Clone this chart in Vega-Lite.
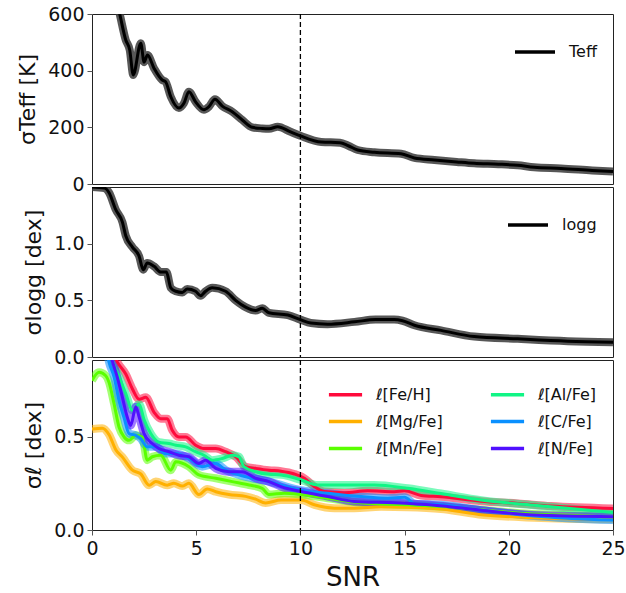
{
  "$schema": "https://vega.github.io/schema/vega-lite/v6.json",
  "background": "white",
  "padding": {"left": 16, "top": 4, "right": 12, "bottom": 2},
  "spacing": 3,
  "bounds": "flush",
  "datasets": {
    "teff": [
      {"snr": 0.5, "v": 900, "name": "Teff"}, {"snr": 1.0, "v": 700, "name": "Teff"}, {"snr": 1.33, "v": 600, "name": "Teff"},
      {"snr": 1.62, "v": 508, "name": "Teff"}, {"snr": 1.81, "v": 473, "name": "Teff"}, {"snr": 1.98, "v": 385, "name": "Teff"},
      {"snr": 2.34, "v": 497, "name": "Teff"}, {"snr": 2.5, "v": 430, "name": "Teff"}, {"snr": 2.66, "v": 455, "name": "Teff"},
      {"snr": 2.98, "v": 408, "name": "Teff"}, {"snr": 3.37, "v": 367, "name": "Teff"}, {"snr": 3.53, "v": 361, "name": "Teff"},
      {"snr": 3.78, "v": 308, "name": "Teff"}, {"snr": 4.17, "v": 268, "name": "Teff"}, {"snr": 4.41, "v": 285, "name": "Teff"},
      {"snr": 4.65, "v": 326, "name": "Teff"}, {"snr": 4.97, "v": 290, "name": "Teff"}, {"snr": 5.37, "v": 262, "name": "Teff"},
      {"snr": 5.61, "v": 273, "name": "Teff"}, {"snr": 5.9, "v": 299, "name": "Teff"}, {"snr": 6.25, "v": 275, "name": "Teff"},
      {"snr": 6.73, "v": 255, "name": "Teff"}, {"snr": 7.21, "v": 226, "name": "Teff"}, {"snr": 7.69, "v": 200, "name": "Teff"},
      {"snr": 8.17, "v": 196, "name": "Teff"}, {"snr": 8.5, "v": 195, "name": "Teff"}, {"snr": 8.91, "v": 202, "name": "Teff"},
      {"snr": 9.5, "v": 185, "name": "Teff"}, {"snr": 10.0, "v": 170, "name": "Teff"}, {"snr": 11.0, "v": 148, "name": "Teff"},
      {"snr": 11.9, "v": 146, "name": "Teff"}, {"snr": 12.3, "v": 135, "name": "Teff"}, {"snr": 12.75, "v": 120, "name": "Teff"},
      {"snr": 13.55, "v": 112, "name": "Teff"}, {"snr": 14.83, "v": 107, "name": "Teff"}, {"snr": 15.47, "v": 92, "name": "Teff"},
      {"snr": 16.43, "v": 85, "name": "Teff"}, {"snr": 17.5, "v": 78, "name": "Teff"}, {"snr": 18.34, "v": 73, "name": "Teff"},
      {"snr": 19.5, "v": 70, "name": "Teff"}, {"snr": 20.43, "v": 66, "name": "Teff"}, {"snr": 21.22, "v": 59, "name": "Teff"},
      {"snr": 22.5, "v": 55, "name": "Teff"}, {"snr": 24.0, "v": 48, "name": "Teff"}, {"snr": 25.0, "v": 44, "name": "Teff"}
    ],
    "logg": [
      {"snr": 0.0, "v": 1.5, "name": "logg"}, {"snr": 0.6, "v": 1.49, "name": "logg"}, {"snr": 0.82, "v": 1.45, "name": "logg"},
      {"snr": 1.14, "v": 1.30, "name": "logg"}, {"snr": 1.46, "v": 1.19, "name": "logg"}, {"snr": 1.62, "v": 1.07, "name": "logg"},
      {"snr": 1.94, "v": 0.97, "name": "logg"}, {"snr": 2.26, "v": 0.89, "name": "logg"}, {"snr": 2.46, "v": 0.77, "name": "logg"},
      {"snr": 2.65, "v": 0.83, "name": "logg"}, {"snr": 2.98, "v": 0.80, "name": "logg"}, {"snr": 3.3, "v": 0.75, "name": "logg"},
      {"snr": 3.57, "v": 0.75, "name": "logg"}, {"snr": 3.78, "v": 0.61, "name": "logg"}, {"snr": 4.02, "v": 0.58, "name": "logg"},
      {"snr": 4.33, "v": 0.57, "name": "logg"}, {"snr": 4.57, "v": 0.60, "name": "logg"}, {"snr": 4.97, "v": 0.58, "name": "logg"},
      {"snr": 5.21, "v": 0.54, "name": "logg"}, {"snr": 5.45, "v": 0.58, "name": "logg"}, {"snr": 5.77, "v": 0.61, "name": "logg"},
      {"snr": 6.41, "v": 0.58, "name": "logg"}, {"snr": 6.89, "v": 0.50, "name": "logg"}, {"snr": 7.37, "v": 0.44, "name": "logg"},
      {"snr": 7.85, "v": 0.41, "name": "logg"}, {"snr": 8.17, "v": 0.43, "name": "logg"}, {"snr": 8.49, "v": 0.39, "name": "logg"},
      {"snr": 9.4, "v": 0.37, "name": "logg"}, {"snr": 10.0, "v": 0.33, "name": "logg"}, {"snr": 10.5, "v": 0.30, "name": "logg"},
      {"snr": 11.3, "v": 0.29, "name": "logg"}, {"snr": 12.6, "v": 0.31, "name": "logg"}, {"snr": 13.6, "v": 0.33, "name": "logg"},
      {"snr": 14.5, "v": 0.33, "name": "logg"}, {"snr": 14.9, "v": 0.32, "name": "logg"}, {"snr": 15.47, "v": 0.28, "name": "logg"},
      {"snr": 16.75, "v": 0.235, "name": "logg"}, {"snr": 18.34, "v": 0.18, "name": "logg"}, {"snr": 20.43, "v": 0.16, "name": "logg"},
      {"snr": 22.83, "v": 0.14, "name": "logg"}, {"snr": 25.0, "v": 0.13, "name": "logg"}
    ],
    "abund": [
      {"el": "ℓ[Fe/H]", "snr": 0.5, "v": 1.1}, {"el": "ℓ[Fe/H]", "snr": 1.0, "v": 0.95}, {"el": "ℓ[Fe/H]", "snr": 1.21, "v": 0.9},
      {"el": "ℓ[Fe/H]", "snr": 1.62, "v": 0.835}, {"el": "ℓ[Fe/H]", "snr": 1.94, "v": 0.755}, {"el": "ℓ[Fe/H]", "snr": 2.26, "v": 0.70},
      {"el": "ℓ[Fe/H]", "snr": 2.58, "v": 0.71}, {"el": "ℓ[Fe/H]", "snr": 2.98, "v": 0.63}, {"el": "ℓ[Fe/H]", "snr": 3.3, "v": 0.596},
      {"el": "ℓ[Fe/H]", "snr": 3.61, "v": 0.596}, {"el": "ℓ[Fe/H]", "snr": 3.85, "v": 0.534}, {"el": "ℓ[Fe/H]", "snr": 4.17, "v": 0.498},
      {"el": "ℓ[Fe/H]", "snr": 4.5, "v": 0.498}, {"el": "ℓ[Fe/H]", "snr": 4.97, "v": 0.454}, {"el": "ℓ[Fe/H]", "snr": 5.37, "v": 0.436},
      {"el": "ℓ[Fe/H]", "snr": 5.94, "v": 0.436}, {"el": "ℓ[Fe/H]", "snr": 6.41, "v": 0.419}, {"el": "ℓ[Fe/H]", "snr": 6.9, "v": 0.392},
      {"el": "ℓ[Fe/H]", "snr": 7.37, "v": 0.339}, {"el": "ℓ[Fe/H]", "snr": 7.85, "v": 0.33}, {"el": "ℓ[Fe/H]", "snr": 8.49, "v": 0.32},
      {"el": "ℓ[Fe/H]", "snr": 9.07, "v": 0.315}, {"el": "ℓ[Fe/H]", "snr": 9.71, "v": 0.30}, {"el": "ℓ[Fe/H]", "snr": 10.19, "v": 0.277},
      {"el": "ℓ[Fe/H]", "snr": 10.67, "v": 0.232}, {"el": "ℓ[Fe/H]", "snr": 11.15, "v": 0.206}, {"el": "ℓ[Fe/H]", "snr": 12.11, "v": 0.2},
      {"el": "ℓ[Fe/H]", "snr": 13.23, "v": 0.21}, {"el": "ℓ[Fe/H]", "snr": 14.5, "v": 0.205}, {"el": "ℓ[Fe/H]", "snr": 15.0, "v": 0.21},
      {"el": "ℓ[Fe/H]", "snr": 15.79, "v": 0.185}, {"el": "ℓ[Fe/H]", "snr": 16.75, "v": 0.178}, {"el": "ℓ[Fe/H]", "snr": 18.67, "v": 0.154},
      {"el": "ℓ[Fe/H]", "snr": 20.43, "v": 0.142}, {"el": "ℓ[Fe/H]", "snr": 22.02, "v": 0.128}, {"el": "ℓ[Fe/H]", "snr": 25.0, "v": 0.115},

      {"el": "ℓ[Mg/Fe]", "snr": 0.0, "v": 0.54}, {"el": "ℓ[Mg/Fe]", "snr": 0.49, "v": 0.545}, {"el": "ℓ[Mg/Fe]", "snr": 0.82, "v": 0.51},
      {"el": "ℓ[Mg/Fe]", "snr": 1.14, "v": 0.43}, {"el": "ℓ[Mg/Fe]", "snr": 1.46, "v": 0.39}, {"el": "ℓ[Mg/Fe]", "snr": 1.94, "v": 0.32},
      {"el": "ℓ[Mg/Fe]", "snr": 2.34, "v": 0.30}, {"el": "ℓ[Mg/Fe]", "snr": 2.74, "v": 0.24}, {"el": "ℓ[Mg/Fe]", "snr": 3.06, "v": 0.26},
      {"el": "ℓ[Mg/Fe]", "snr": 3.61, "v": 0.24}, {"el": "ℓ[Mg/Fe]", "snr": 3.93, "v": 0.25}, {"el": "ℓ[Mg/Fe]", "snr": 4.33, "v": 0.235},
      {"el": "ℓ[Mg/Fe]", "snr": 4.65, "v": 0.25}, {"el": "ℓ[Mg/Fe]", "snr": 5.13, "v": 0.19}, {"el": "ℓ[Mg/Fe]", "snr": 5.53, "v": 0.22},
      {"el": "ℓ[Mg/Fe]", "snr": 5.94, "v": 0.205}, {"el": "ℓ[Mg/Fe]", "snr": 6.57, "v": 0.19}, {"el": "ℓ[Mg/Fe]", "snr": 7.37, "v": 0.18},
      {"el": "ℓ[Mg/Fe]", "snr": 7.85, "v": 0.165}, {"el": "ℓ[Mg/Fe]", "snr": 8.33, "v": 0.145}, {"el": "ℓ[Mg/Fe]", "snr": 9.07, "v": 0.16},
      {"el": "ℓ[Mg/Fe]", "snr": 10.03, "v": 0.16}, {"el": "ℓ[Mg/Fe]", "snr": 10.67, "v": 0.135}, {"el": "ℓ[Mg/Fe]", "snr": 11.63, "v": 0.117},
      {"el": "ℓ[Mg/Fe]", "snr": 12.59, "v": 0.117}, {"el": "ℓ[Mg/Fe]", "snr": 13.87, "v": 0.124}, {"el": "ℓ[Mg/Fe]", "snr": 15.15, "v": 0.122},
      {"el": "ℓ[Mg/Fe]", "snr": 16.75, "v": 0.112}, {"el": "ℓ[Mg/Fe]", "snr": 17.71, "v": 0.098}, {"el": "ℓ[Mg/Fe]", "snr": 18.67, "v": 0.082},
      {"el": "ℓ[Mg/Fe]", "snr": 21.22, "v": 0.066}, {"el": "ℓ[Mg/Fe]", "snr": 25.0, "v": 0.057},

      {"el": "ℓ[Mn/Fe]", "snr": 0.0, "v": 0.80}, {"el": "ℓ[Mn/Fe]", "snr": 0.34, "v": 0.844}, {"el": "ℓ[Mn/Fe]", "snr": 0.66, "v": 0.826},
      {"el": "ℓ[Mn/Fe]", "snr": 0.82, "v": 0.79}, {"el": "ℓ[Mn/Fe]", "snr": 1.06, "v": 0.675}, {"el": "ℓ[Mn/Fe]", "snr": 1.3, "v": 0.55},
      {"el": "ℓ[Mn/Fe]", "snr": 1.54, "v": 0.498}, {"el": "ℓ[Mn/Fe]", "snr": 1.78, "v": 0.48}, {"el": "ℓ[Mn/Fe]", "snr": 2.1, "v": 0.507},
      {"el": "ℓ[Mn/Fe]", "snr": 2.41, "v": 0.498}, {"el": "ℓ[Mn/Fe]", "snr": 2.65, "v": 0.374}, {"el": "ℓ[Mn/Fe]", "snr": 2.89, "v": 0.392},
      {"el": "ℓ[Mn/Fe]", "snr": 3.3, "v": 0.40}, {"el": "ℓ[Mn/Fe]", "snr": 3.78, "v": 0.32}, {"el": "ℓ[Mn/Fe]", "snr": 4.02, "v": 0.365},
      {"el": "ℓ[Mn/Fe]", "snr": 4.65, "v": 0.339}, {"el": "ℓ[Mn/Fe]", "snr": 5.13, "v": 0.295}, {"el": "ℓ[Mn/Fe]", "snr": 5.94, "v": 0.277},
      {"el": "ℓ[Mn/Fe]", "snr": 6.73, "v": 0.259}, {"el": "ℓ[Mn/Fe]", "snr": 7.54, "v": 0.241}, {"el": "ℓ[Mn/Fe]", "snr": 8.17, "v": 0.223},
      {"el": "ℓ[Mn/Fe]", "snr": 8.49, "v": 0.19}, {"el": "ℓ[Mn/Fe]", "snr": 9.23, "v": 0.197}, {"el": "ℓ[Mn/Fe]", "snr": 10.03, "v": 0.19},
      {"el": "ℓ[Mn/Fe]", "snr": 11.31, "v": 0.17}, {"el": "ℓ[Mn/Fe]", "snr": 12.91, "v": 0.146}, {"el": "ℓ[Mn/Fe]", "snr": 15.15, "v": 0.135},
      {"el": "ℓ[Mn/Fe]", "snr": 16.75, "v": 0.126}, {"el": "ℓ[Mn/Fe]", "snr": 18.5, "v": 0.11}, {"el": "ℓ[Mn/Fe]", "snr": 20.5, "v": 0.09},
      {"el": "ℓ[Mn/Fe]", "snr": 22.5, "v": 0.08}, {"el": "ℓ[Mn/Fe]", "snr": 25.0, "v": 0.07},

      {"el": "ℓ[Al/Fe]", "snr": 0.6, "v": 1.05}, {"el": "ℓ[Al/Fe]", "snr": 0.97, "v": 0.906}, {"el": "ℓ[Al/Fe]", "snr": 1.3, "v": 0.82},
      {"el": "ℓ[Al/Fe]", "snr": 1.62, "v": 0.73}, {"el": "ℓ[Al/Fe]", "snr": 1.94, "v": 0.64}, {"el": "ℓ[Al/Fe]", "snr": 2.26, "v": 0.675},
      {"el": "ℓ[Al/Fe]", "snr": 2.5, "v": 0.59}, {"el": "ℓ[Al/Fe]", "snr": 2.82, "v": 0.516}, {"el": "ℓ[Al/Fe]", "snr": 3.21, "v": 0.47},
      {"el": "ℓ[Al/Fe]", "snr": 3.69, "v": 0.463}, {"el": "ℓ[Al/Fe]", "snr": 4.02, "v": 0.454}, {"el": "ℓ[Al/Fe]", "snr": 4.5, "v": 0.445},
      {"el": "ℓ[Al/Fe]", "snr": 4.97, "v": 0.419}, {"el": "ℓ[Al/Fe]", "snr": 5.37, "v": 0.40}, {"el": "ℓ[Al/Fe]", "snr": 5.77, "v": 0.374},
      {"el": "ℓ[Al/Fe]", "snr": 6.25, "v": 0.383}, {"el": "ℓ[Al/Fe]", "snr": 6.73, "v": 0.40}, {"el": "ℓ[Al/Fe]", "snr": 7.05, "v": 0.392},
      {"el": "ℓ[Al/Fe]", "snr": 7.29, "v": 0.339}, {"el": "ℓ[Al/Fe]", "snr": 7.85, "v": 0.312}, {"el": "ℓ[Al/Fe]", "snr": 8.49, "v": 0.298},
      {"el": "ℓ[Al/Fe]", "snr": 9.07, "v": 0.295}, {"el": "ℓ[Al/Fe]", "snr": 10.03, "v": 0.268}, {"el": "ℓ[Al/Fe]", "snr": 10.83, "v": 0.241},
      {"el": "ℓ[Al/Fe]", "snr": 12.11, "v": 0.241}, {"el": "ℓ[Al/Fe]", "snr": 13.55, "v": 0.241}, {"el": "ℓ[Al/Fe]", "snr": 15.15, "v": 0.223},
      {"el": "ℓ[Al/Fe]", "snr": 16.75, "v": 0.195}, {"el": "ℓ[Al/Fe]", "snr": 18.67, "v": 0.16}, {"el": "ℓ[Al/Fe]", "snr": 21.22, "v": 0.133},
      {"el": "ℓ[Al/Fe]", "snr": 25.0, "v": 0.094},

      {"el": "ℓ[C/Fe]", "snr": 0.5, "v": 1.1}, {"el": "ℓ[C/Fe]", "snr": 0.82, "v": 0.897}, {"el": "ℓ[C/Fe]", "snr": 1.06, "v": 0.82},
      {"el": "ℓ[C/Fe]", "snr": 1.3, "v": 0.69}, {"el": "ℓ[C/Fe]", "snr": 1.54, "v": 0.60}, {"el": "ℓ[C/Fe]", "snr": 1.78, "v": 0.516},
      {"el": "ℓ[C/Fe]", "snr": 2.1, "v": 0.507}, {"el": "ℓ[C/Fe]", "snr": 2.34, "v": 0.489}, {"el": "ℓ[C/Fe]", "snr": 2.65, "v": 0.445},
      {"el": "ℓ[C/Fe]", "snr": 3.06, "v": 0.445}, {"el": "ℓ[C/Fe]", "snr": 3.53, "v": 0.41}, {"el": "ℓ[C/Fe]", "snr": 4.02, "v": 0.41},
      {"el": "ℓ[C/Fe]", "snr": 4.65, "v": 0.383}, {"el": "ℓ[C/Fe]", "snr": 5.29, "v": 0.339}, {"el": "ℓ[C/Fe]", "snr": 5.94, "v": 0.356},
      {"el": "ℓ[C/Fe]", "snr": 6.41, "v": 0.321}, {"el": "ℓ[C/Fe]", "snr": 7.05, "v": 0.295}, {"el": "ℓ[C/Fe]", "snr": 7.69, "v": 0.277},
      {"el": "ℓ[C/Fe]", "snr": 8.49, "v": 0.259}, {"el": "ℓ[C/Fe]", "snr": 9.07, "v": 0.241}, {"el": "ℓ[C/Fe]", "snr": 10.03, "v": 0.213},
      {"el": "ℓ[C/Fe]", "snr": 11.31, "v": 0.197}, {"el": "ℓ[C/Fe]", "snr": 12.91, "v": 0.179}, {"el": "ℓ[C/Fe]", "snr": 14.19, "v": 0.17},
      {"el": "ℓ[C/Fe]", "snr": 15.0, "v": 0.175}, {"el": "ℓ[C/Fe]", "snr": 15.5, "v": 0.14}, {"el": "ℓ[C/Fe]", "snr": 16.75, "v": 0.135},
      {"el": "ℓ[C/Fe]", "snr": 18.67, "v": 0.106}, {"el": "ℓ[C/Fe]", "snr": 21.22, "v": 0.075}, {"el": "ℓ[C/Fe]", "snr": 25.0, "v": 0.053},

      {"el": "ℓ[N/Fe]", "snr": 0.6, "v": 1.05}, {"el": "ℓ[N/Fe]", "snr": 0.97, "v": 0.906}, {"el": "ℓ[N/Fe]", "snr": 1.21, "v": 0.82},
      {"el": "ℓ[N/Fe]", "snr": 1.46, "v": 0.71}, {"el": "ℓ[N/Fe]", "snr": 1.69, "v": 0.605}, {"el": "ℓ[N/Fe]", "snr": 1.86, "v": 0.56},
      {"el": "ℓ[N/Fe]", "snr": 2.1, "v": 0.66}, {"el": "ℓ[N/Fe]", "snr": 2.26, "v": 0.605}, {"el": "ℓ[N/Fe]", "snr": 2.5, "v": 0.516},
      {"el": "ℓ[N/Fe]", "snr": 2.89, "v": 0.463}, {"el": "ℓ[N/Fe]", "snr": 3.21, "v": 0.436}, {"el": "ℓ[N/Fe]", "snr": 3.69, "v": 0.419},
      {"el": "ℓ[N/Fe]", "snr": 4.17, "v": 0.40}, {"el": "ℓ[N/Fe]", "snr": 4.65, "v": 0.392}, {"el": "ℓ[N/Fe]", "snr": 5.13, "v": 0.356},
      {"el": "ℓ[N/Fe]", "snr": 5.45, "v": 0.374}, {"el": "ℓ[N/Fe]", "snr": 5.94, "v": 0.33}, {"el": "ℓ[N/Fe]", "snr": 6.57, "v": 0.312},
      {"el": "ℓ[N/Fe]", "snr": 7.21, "v": 0.312}, {"el": "ℓ[N/Fe]", "snr": 7.85, "v": 0.277}, {"el": "ℓ[N/Fe]", "snr": 8.49, "v": 0.259},
      {"el": "ℓ[N/Fe]", "snr": 9.07, "v": 0.232}, {"el": "ℓ[N/Fe]", "snr": 10.03, "v": 0.206}, {"el": "ℓ[N/Fe]", "snr": 11.31, "v": 0.179},
      {"el": "ℓ[N/Fe]", "snr": 12.59, "v": 0.153}, {"el": "ℓ[N/Fe]", "snr": 14.51, "v": 0.146}, {"el": "ℓ[N/Fe]", "snr": 16.43, "v": 0.133},
      {"el": "ℓ[N/Fe]", "snr": 18.67, "v": 0.106}, {"el": "ℓ[N/Fe]", "snr": 21.22, "v": 0.08}, {"el": "ℓ[N/Fe]", "snr": 25.0, "v": 0.071}
    ],
    "cut": [{"snr": 10}]
  },
  "vconcat": [
    {
      "width": 521, "height": 170,
      "layer": [
        {
          "data": {"name": "teff"},
          "mark": {"type": "line", "clip": true, "strokeWidth": 8, "color": "#3a3a3a", "opacity": 0.85, "interpolate": "monotone"},
          "encoding": {
            "x": {"field": "snr", "type": "quantitative", "scale": {"domain": [0, 25], "nice": false}, "axis": null},
            "y": {"field": "v", "type": "quantitative", "scale": {"domain": [0, 600], "nice": false}, "axis": {"values": [0, 200, 400, 600], "format": "d", "title": "σTeff [K]"}}
          }
        },
        {
          "data": {"name": "teff"},
          "mark": {"type": "line", "clip": true, "strokeWidth": 3, "interpolate": "monotone"},
          "encoding": {
            "x": {"field": "snr", "type": "quantitative"},
            "y": {"field": "v", "type": "quantitative"},
            "color": {"field": "name", "type": "nominal", "scale": {"range": ["#000000"]}, "legend": {"title": null, "orient": "top-right", "offset": 12, "symbolSize": 1600}}
          }
        },
        {
          "data": {"name": "cut"},
          "mark": {"type": "rule", "strokeDash": [5, 3], "color": "black", "strokeWidth": 1.3},
          "encoding": {"x": {"field": "snr", "type": "quantitative"}}
        }
      ]
    },
    {
      "width": 521, "height": 170,
      "layer": [
        {
          "data": {"name": "logg"},
          "mark": {"type": "line", "clip": true, "strokeWidth": 8, "color": "#3a3a3a", "opacity": 0.85, "interpolate": "monotone"},
          "encoding": {
            "x": {"field": "snr", "type": "quantitative", "scale": {"domain": [0, 25], "nice": false}, "axis": null},
            "y": {"field": "v", "type": "quantitative", "scale": {"domain": [0, 1.5], "nice": false}, "axis": {"values": [0, 0.5, 1.0], "format": ".1f", "title": "σlogg  [dex]"}}
          }
        },
        {
          "data": {"name": "logg"},
          "mark": {"type": "line", "clip": true, "strokeWidth": 3, "interpolate": "monotone"},
          "encoding": {
            "x": {"field": "snr", "type": "quantitative"},
            "y": {"field": "v", "type": "quantitative"},
            "color": {"field": "name", "type": "nominal", "scale": {"range": ["#000000"]}, "legend": {"title": null, "orient": "top-right", "offset": 12, "symbolSize": 1600}}
          }
        },
        {
          "data": {"name": "cut"},
          "mark": {"type": "rule", "strokeDash": [5, 3], "color": "black", "strokeWidth": 1.3},
          "encoding": {"x": {"field": "snr", "type": "quantitative"}}
        }
      ]
    },
    {
      "width": 521, "height": 170,
      "layer": [
        {
          "data": {"name": "abund"},
          "mark": {"type": "line", "clip": true, "strokeWidth": 8, "opacity": 0.55, "interpolate": "monotone"},
          "encoding": {
            "x": {"field": "snr", "type": "quantitative", "scale": {"domain": [0, 25], "nice": false}, "axis": {"values": [0, 5, 10, 15, 20, 25], "title": "SNR"}},
            "y": {"field": "v", "type": "quantitative", "scale": {"domain": [0, 0.91], "nice": false}, "axis": {"values": [0, 0.5], "format": ".1f", "title": "σℓ [dex]"}},
            "color": {"field": "el", "type": "nominal",
              "scale": {"domain": ["ℓ[Fe/H]", "ℓ[Mg/Fe]", "ℓ[Mn/Fe]", "ℓ[Al/Fe]", "ℓ[C/Fe]", "ℓ[N/Fe]"],
                        "range": ["#ff0a3c", "#ffb000", "#5aff00", "#10f585", "#0a90ff", "#5010ff"]},
              "legend": {"title": null, "orient": "top-right", "columns": 2, "columnPadding": 40, "rowPadding": 0, "offset": 12, "symbolOpacity": 1, "symbolSize": 1100}}
          }
        },
        {
          "data": {"name": "abund"},
          "mark": {"type": "line", "clip": true, "strokeWidth": 3, "interpolate": "monotone"},
          "encoding": {
            "x": {"field": "snr", "type": "quantitative"},
            "y": {"field": "v", "type": "quantitative"},
            "color": {"field": "el", "type": "nominal"}
          }
        },
        {
          "data": {"name": "cut"},
          "mark": {"type": "rule", "strokeDash": [5, 3], "color": "black", "strokeWidth": 1.3},
          "encoding": {"x": {"field": "snr", "type": "quantitative"}}
        }
      ]
    }
  ],
  "resolve": {"scale": {"color": "independent"}},
  "config": {
    "font": "DejaVu Sans",
    "view": {"stroke": "#222222", "strokeWidth": 1},
    "axis": {
      "grid": false,
      "domain": false,
      "tickColor": "#555555",
      "tickSize": 5,
      "labelFont": "DejaVu Sans",
      "labelFontSize": 19,
      "labelColor": "#111111",
      "titleFont": "DejaVu Sans",
      "titleFontWeight": "normal",
      "titleColor": "#111111"
    },
    "axisY": {"titleFontSize": 22, "titlePadding": 8, "labelPadding": 3},
    "axisX": {"titleFontSize": 26, "titlePadding": 6, "labelPadding": 4, "labelFlush": false},
    "legend": {
      "labelFont": "DejaVu Sans",
      "labelFontSize": 16,
      "labelColor": "#111111",
      "symbolType": "stroke",
      "symbolStrokeWidth": 3.5,
      "labelOffset": 12,
      "padding": 4
    }
  }
}
